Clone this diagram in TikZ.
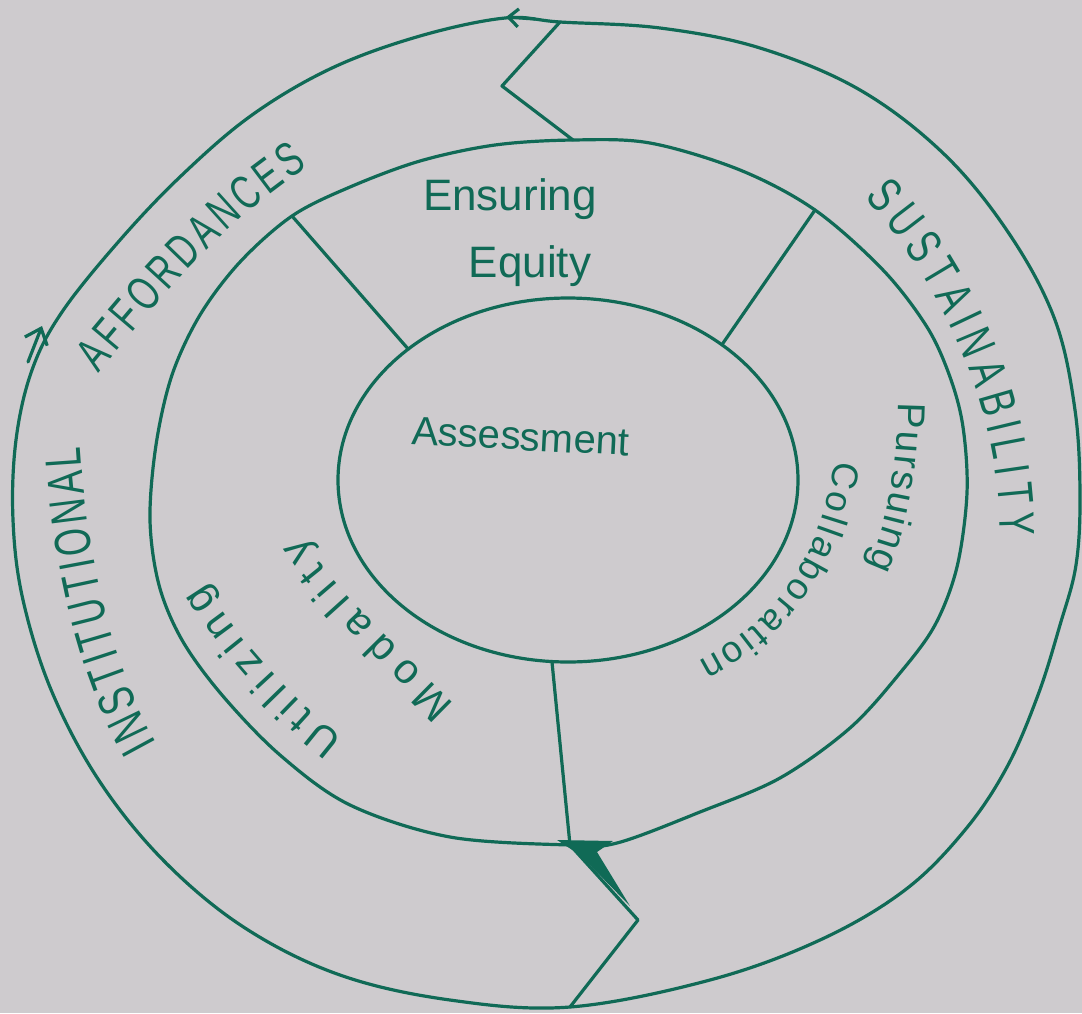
\documentclass[tikz,border=0pt]{standalone}
\usepackage{fontspec}
\setmainfont{Liberation Sans}
\newfontfamily\condfont[FakeStretch=0.7]{Liberation Sans}
\usetikzlibrary{decorations.text,arrows.meta,calc}
\definecolor{paper}{RGB}{206,203,206}
\definecolor{ink}{RGB}{16,106,86}
\tikzset{
  ringline/.style={draw=ink, line width=1.6pt},
  spoke/.style={draw=ink, line width=1.6pt},
  lbl/.style={text=ink, font=\fontsize{22}{24}\selectfont, inner sep=0pt},
  arctext/.style={decorate, decoration={text along path, text align=fit to path, text color=ink, #1}}
}
\begin{document}
\begin{tikzpicture}[x=0.5pt,y=-0.5pt,line join=round,line cap=round]
\useasboundingbox (0,0) rectangle (1082,1013);
\fill[paper] (0,0) rectangle (1082,1013);

% junction coordinates
\coordinate (ic) at (568,480);
\coordinate (tz1) at (560,22);
\coordinate (tz2) at (502,86);
\coordinate (tz3) at (573,140);
\coordinate (bz1) at (570,845);
\coordinate (bz2) at (638,920);
\coordinate (bz3) at (570,1007);
\coordinate (sp1a) at (292,216);
\coordinate (sp1b) at ($(ic)+(-134:230 and 182)$);
\coordinate (sp2a) at (815,210);
\coordinate (sp2b) at ($(ic)+(-48:230 and 182)$);
\coordinate (sp3a) at ($(ic)+(94:230 and 182)$);

% outer ring
\draw[ringline] plot[smooth cycle, tension=0.6] coordinates {
 (tz1) (660,28) (760,48) (860,90) (945,155) (1010,235) (1055,320) (1075,410)
 (1080,495) (1076,565) (1060,625) (1038,695) (1007,767) (965,830) (905,890)
 (820,940) (710,980) (bz3) (450,1000) (340,975) (245,928) (165,862) (100,782)
 (52,692) (23,600) (13,520) (16,440) (32,370) (62,312) (120,240) (182,175)
 (252,115) (332,68) (420,36) (505,18)};

% second boundary
\draw[ringline] plot[smooth cycle, tension=0.55] coordinates {
 (tz3) (650,143) (740,170) (sp2a) (883,270) (927,327) (950,377) (963,427)
 (967,493) (957,567) (935,625) (900,673) (850,728) (780,778) (700,812)
 (617,843) (bz1) (450,837) (350,805) (280,755) (222,695) (182,640) (159,585)
 (150,520) (156,445) (172,375) (200,315) (240,262) (sp1a) (350,187) (420,161)
 (495,145)};

% inner ellipse
\draw[ringline] (ic) ellipse [x radius=230, y radius=182];

% spokes and zigzags
\draw[spoke] (sp1a) -- (sp1b);
\draw[spoke] (sp2a) -- (sp2b);
\draw[spoke] (sp3a) -- (bz1);
\draw[spoke] (tz1) -- (tz2) -- (tz3);
\draw[spoke] (bz1) -- (bz2) -- (bz3);

% arrowheads
\coordinate (al1) at (28,362);
\coordinate (al2) at (42,326);
\draw[spoke, -{Straight Barb[length=7pt,width=12pt]}] (al1) -- (al2);
\coordinate (at1) at (535,19);
\coordinate (at2) at (506,17);
\draw[spoke, -{Straight Barb[length=5pt,width=9pt]}] (at1) -- (at2);
\fill[ink] (557,840) -- (613,841) -- (597,852) -- (630,906) -- (580,855) -- cycle;

% centre texts
\node[lbl, anchor=base] (ens) at (510,210) {Ensuring};
\node[lbl, anchor=base] (equ) at (530,277) {Equity};
\node[lbl, anchor=base, rotate=-3, font=\fontsize{20}{22}\selectfont] (ass) at (520,450) {Assessment};

% curved middle-ring texts
\path[arctext={text={|\fontsize{19.5}{22}\selectfont|Pursuing}, raise=-5pt}]
  (908,403) .. controls (907,470) and (898,525) .. (877,570);
\path[arctext={text={|\fontsize{18.5}{22}\selectfont|Collaboration}, raise=-4.8pt}]
  (845,462) .. controls (832,530) and (810,615) .. (703,670);
\path[arctext={text={|\fontsize{21}{24}\selectfont|Utilizing}, raise=-5.5pt}]
  (337,747) .. controls (290,712) and (232,650) .. (195,590);
\path[arctext={text={|\fontsize{21}{24}\selectfont|Modality}, raise=-5.5pt}]
  (447,712) .. controls (400,665) and (330,600) .. (292,543);

% curved outer-ring texts
\path[arctext={text={|\condfont\fontsize{25.5}{30}\selectfont|INSTITUTIONAL}, raise=-9.2pt}]
  (140,752) .. controls (100,680) and (70,580) .. (62,448);
\path[arctext={text={|\condfont\fontsize{24}{27}\selectfont|AFFORDANCES}, raise=-8.6pt}]
  (85,362) .. controls (145,290) and (210,210) .. (298,153);
\path[arctext={text={|\condfont\fontsize{25}{28}\selectfont|SUSTAINABILITY}, raise=-9pt}]
  (878,186) .. controls (955,270) and (1018,400) .. (1018,535);
\end{tikzpicture}
\end{document}
